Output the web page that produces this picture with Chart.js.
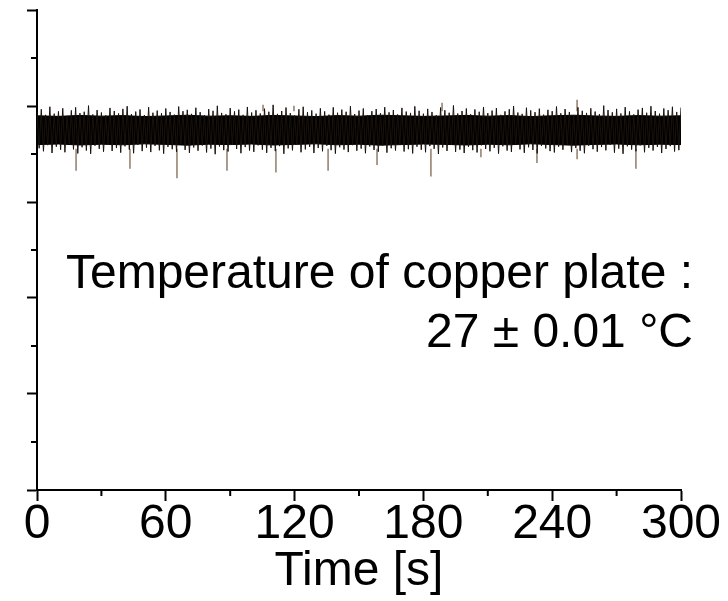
<!DOCTYPE html>
<html>
<head>
<meta charset="utf-8">
<script src="https://cdn.jsdelivr.net/npm/chart.js@4/dist/chart.umd.min.js"></script>
<style>body{margin:0;background:#fff}</style>
</head>
<body>
<canvas id="chartTemp" width="728" height="601"></canvas>
<script>
// noisy trace: a high reading every 2 s (t = 0, 2, 4 ...) and a low one in between (t = 1, 3, 5 ...)
const sampleStep = 2
const traceHigh = [
  27.0092, 27.0108, 27.0079, 27.0121, 27.0085, 27.0097, 27.0113, 27.0074, 27.0102, 27.0118,
  27.0088, 27.0095, 27.0127, 27.0081, 27.0104, 27.0091, 27.0076, 27.0115, 27.0099, 27.0086,
  27.0110, 27.0124, 27.0083, 27.0096, 27.0107, 27.0078, 27.0119, 27.0090, 27.0101, 27.0087,
  27.0112, 27.0094, 27.0080, 27.0122, 27.0098, 27.0105, 27.0084, 27.0116, 27.0093, 27.0077,
  27.0109, 27.0100, 27.0126, 27.0089, 27.0082, 27.0114, 27.0097, 27.0106, 27.0079, 27.0120,
  27.0091, 27.0103, 27.0086, 27.0111, 27.0095, 27.0131, 27.0084, 27.0099, 27.0117, 27.0088,
  27.0076, 27.0108, 27.0121, 27.0093, 27.0102, 27.0085, 27.0113, 27.0097, 27.0080, 27.0118,
  27.0090, 27.0106, 27.0095, 27.0124, 27.0083, 27.0101, 27.0112, 27.0078, 27.0098, 27.0109,
  27.0087, 27.0119, 27.0092, 27.0104, 27.0081, 27.0115, 27.0096, 27.0089, 27.0123, 27.0100,
  27.0085, 27.0110, 27.0094, 27.0077, 27.0117, 27.0103, 27.0090, 27.0128, 27.0086, 27.0099,
  27.0112, 27.0082, 27.0107, 27.0095, 27.0120, 27.0088, 27.0101, 27.0114, 27.0079, 27.0097,
  27.0108, 27.0125, 27.0091, 27.0084, 27.0116, 27.0102, 27.0093, 27.0111, 27.0080, 27.0105,
  27.0098, 27.0122, 27.0087, 27.0109, 27.0094, 27.0078, 27.0118, 27.0100, 27.0089, 27.0113,
  27.0096, 27.0083, 27.0127, 27.0104, 27.0092, 27.0110, 27.0086, 27.0119, 27.0097, 27.0081,
  27.0106, 27.0115, 27.0090, 27.0124, 27.0099, 27.0085, 27.0112, 27.0103, 27.0121, 27.0094,
  27.0117
]
const traceLow = [
  26.9905, 26.9889, 26.9921, 26.9880, 26.9913, 26.9897, 26.9884, 26.9926, 26.9899, 26.9878,
  26.9910, 26.9893, 26.9876, 26.9918, 26.9902, 26.9887, 26.9924, 26.9891, 26.9906, 26.9882,
  26.9915, 26.9898, 26.9879, 26.9922, 26.9890, 26.9908, 26.9885, 26.9917, 26.9894, 26.9877,
  26.9912, 26.9900, 26.9886, 26.9927, 26.9896, 26.9881, 26.9909, 26.9892, 26.9919, 26.9883,
  26.9903, 26.9874, 26.9914, 26.9895, 26.9888, 26.9923, 26.9901, 26.9879, 26.9911, 26.9893,
  26.9886, 26.9920, 26.9897, 26.9881, 26.9907, 26.9890, 26.9916, 26.9876, 26.9904, 26.9894,
  26.9925, 26.9884, 26.9899, 26.9912, 26.9880, 26.9906, 26.9889, 26.9918, 26.9895, 26.9877,
  26.9910, 26.9898, 26.9885, 26.9921, 26.9892, 26.9903, 26.9879, 26.9914, 26.9896, 26.9887,
  26.9919, 26.9882, 26.9905, 26.9893, 26.9926, 26.9888, 26.9900, 26.9878, 26.9913, 26.9897,
  26.9884, 26.9916, 26.9902, 26.9875, 26.9909, 26.9891, 26.9922, 26.9886, 26.9898, 26.9880,
  26.9912, 26.9895, 26.9883, 26.9920, 26.9901, 26.9889, 26.9907, 26.9877, 26.9915, 26.9893,
  26.9886, 26.9924, 26.9899, 26.9881, 26.9910, 26.9896, 26.9878, 26.9917, 26.9904, 26.9890,
  26.9883, 26.9913, 26.9897, 26.9926, 26.9885, 26.9906, 26.9892, 26.9879, 26.9918, 26.9900,
  26.9887, 26.9911, 26.9894, 26.9923, 26.9882, 26.9903, 26.9876, 26.9915, 26.9898, 26.9889,
  26.9920, 26.9884, 26.9907, 26.9893, 26.9912, 26.9880, 26.9901, 26.9916, 26.9888, 26.9895
]

// dense core of the band, every 10 s
const coreStep = 10
const coreHigh = [27.0074, 27.0071, 27.0076, 27.0072, 27.0075, 27.0070, 27.0073, 27.0077, 27.0072, 27.0074, 27.0071, 27.0076, 27.0073, 27.0070, 27.0075, 27.0072, 27.0077, 27.0074, 27.0071, 27.0073, 27.0076, 27.0072, 27.0075, 27.0070, 27.0074, 27.0077, 27.0073, 27.0071, 27.0075, 27.0072, 27.0074]
const coreLow = [26.9924, 26.9927, 26.9922, 26.9926, 26.9923, 26.9928, 26.9925, 26.9921, 26.9926, 26.9924, 26.9927, 26.9922, 26.9925, 26.9928, 26.9923, 26.9926, 26.9921, 26.9924, 26.9927, 26.9925, 26.9922, 26.9926, 26.9923, 26.9928, 26.9924, 26.9921, 26.9925, 26.9927, 26.9923, 26.9926, 26.9924]

// isolated glitches sticking out of the band
const spikeTimes = [18.2, 43.3, 65.2, 88.5, 111.3, 135.6, 158.4, 183.5, 206.8, 232.9, 251.6, 279.0, 105.3, 119.7, 188.7, 251.6]
const spikeFrom = [26.990, 26.990, 26.990, 26.990, 26.990, 26.990, 26.990, 26.990, 26.990, 26.990, 26.990, 26.990, 27.010, 27.010, 27.010, 27.010]
const spikeTo = [26.979, 26.980, 26.975, 26.979, 26.978, 26.979, 26.982, 26.976, 26.986, 26.983, 26.985, 26.980, 27.013, 27.0125, 27.014, 27.0156]

const xMinor = [30, 90, 150, 210, 270]
const yMinor = [27.0375, 26.9875, 26.9375, 26.8875, 26.8375]
const noteLines = ['Temperature of copper plate :', '27 ± 0.01 °C']
const noteValues = [26.9177, 26.8870]

const fontFamily = "'Liberation Sans', Arial, sans-serif"

const minorTicks = {
  id: 'minorTicks',
  afterDraw (chart) {
    const { ctx, chartArea, scales: { x, y } } = chart
    ctx.save()
    ctx.strokeStyle = '#000'
    ctx.lineWidth = 2
    ctx.beginPath()
    xMinor.forEach(v => {
      const px = x.getPixelForValue(v)
      ctx.moveTo(px, chartArea.bottom)
      ctx.lineTo(px, chartArea.bottom + 6)
    })
    yMinor.forEach(v => {
      const py = y.getPixelForValue(v)
      ctx.moveTo(chartArea.left, py)
      ctx.lineTo(chartArea.left - 6, py)
    })
    ctx.stroke()

    // annotation text
    ctx.fillStyle = '#000'
    ctx.font = '48px ' + fontFamily
    ctx.textAlign = 'right'
    ctx.textBaseline = 'alphabetic'
    noteLines.forEach((line, i) => {
      ctx.fillText(line, chartArea.right + 12, y.getPixelForValue(noteValues[i]))
    })
    ctx.restore()
  }
}

const trace = []
traceHigh.forEach((v, i) => {
  trace.push({ x: i * sampleStep, y: v })
  if (i < traceLow.length) trace.push({ x: i * sampleStep + sampleStep / 2, y: traceLow[i] })
})
const coreTop = coreHigh.map((v, i) => ({ x: i * coreStep, y: v }))
const coreBottom = coreLow.map((v, i) => ({ x: i * coreStep, y: v }))
const spikes = spikeTimes.map((t, i) => ({ x: t, y: [spikeFrom[i], spikeTo[i]] }))

new Chart(document.getElementById('chartTemp').getContext('2d'), {
  type: 'line',
  data: {
    datasets: [
      {
        data: trace,
        borderColor: '#1a120c',
        borderWidth: 1,
        pointRadius: 0,
        fill: false,
        order: 1
      },
      {
        data: coreTop,
        borderColor: '#000',
        borderWidth: 1,
        pointRadius: 0,
        fill: false,
        order: 2
      },
      {
        data: coreBottom,
        borderColor: '#000',
        borderWidth: 1,
        backgroundColor: '#000',
        pointRadius: 0,
        fill: '-1',
        order: 2
      },
      {
        type: 'bar',
        data: spikes,
        backgroundColor: '#9a8877',
        barThickness: 1,
        order: 3
      }
    ]
  },
  options: {
    responsive: false,
    animation: false,
    layout: { padding: { top: 10, left: 27, right: 47, bottom: 0 } },
    plugins: {
      legend: { display: false },
      tooltip: { enabled: false }
    },
    scales: {
      x: {
        type: 'linear',
        min: 0,
        max: 300,
        offset: false,
        border: { display: true, color: '#000', width: 2 },
        grid: { offset: false, drawOnChartArea: false, drawTicks: true, tickLength: 11, tickColor: '#000', tickWidth: 2 },
        ticks: { stepSize: 60, color: '#000', padding: 0, font: { size: 48, family: fontFamily, lineHeight: 1 }, maxRotation: 0 },
        title: { display: true, text: 'Time [s]', color: '#000', padding: { top: -1, bottom: 5 }, font: { size: 48, family: fontFamily, lineHeight: 1 } }
      },
      y: {
        min: 26.8125,
        max: 27.0625,
        border: { display: true, color: '#000', width: 2 },
        grid: { drawOnChartArea: false, drawTicks: true, tickLength: 10, tickColor: '#000', tickWidth: 2 },
        ticks: { stepSize: 0.05, display: false }
      }
    }
  },
  plugins: [minorTicks]
})
</script>
</body>
</html>
